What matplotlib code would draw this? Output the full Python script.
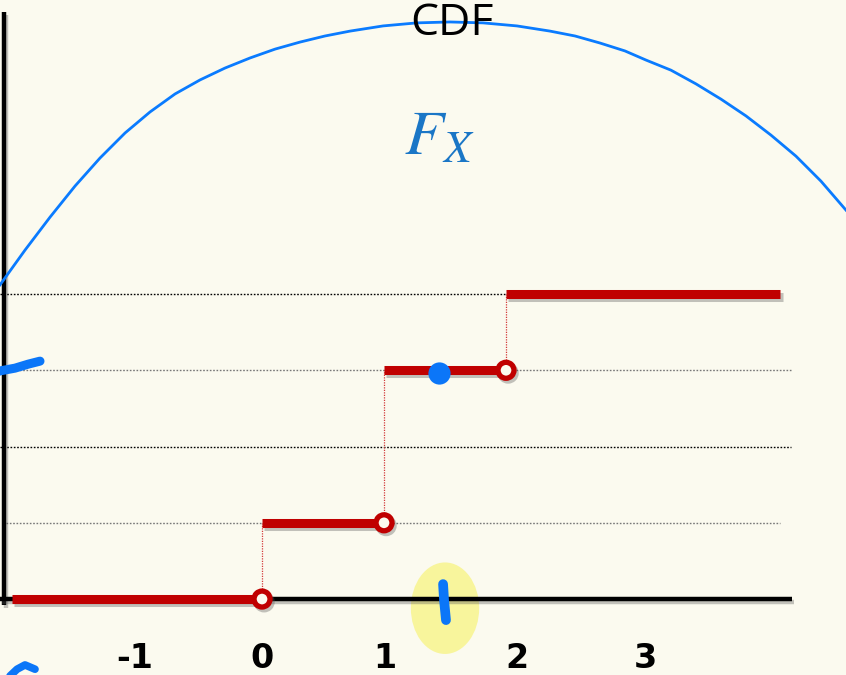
import matplotlib.pyplot as plt
import matplotlib.patheffects as pe
from matplotlib.patches import Ellipse

# step CDF of X = number of heads in two coin flips
jump_x = [0, 1, 2]
cdf_levels = [0.0, 0.25, 0.75, 1.0]
seg_start = [-2.05, 0, 1, 2]
seg_end = [0, 1, 2, 4.25]

# reference levels drawn as dotted guides
guide_y = [1.0, 0.75, 0.5, 0.25]
guide_x0 = [-2.15, -2.10, -2.15, -2.10]
guide_x1 = [2.0, 4.34, 4.34, 4.25]
guide_col = ['black', '#777777', 'black', '#777777']

tick_vals = [-1, 0, 1, 2, 3]
tick_labels = ['-1', '0', '1', '2', '3']

# hand drawn blue arc over the plot
arc_x = [-2.148, -1.943, -1.738, -1.533, -1.328, -1.123, -0.918, -0.713,
         -0.508, -0.303, -0.098, 0.107, 0.311, 0.516, 0.721, 0.992, 1.270,
         1.541, 1.811, 2.090, 2.361, 2.566, 2.770, 2.975, 3.148, 3.352,
         3.557, 3.762, 3.967, 4.172, 4.377, 4.582, 4.787]
arc_y = [1.030, 1.144, 1.252, 1.354, 1.446, 1.528, 1.597, 1.656,
         1.702, 1.741, 1.774, 1.803, 1.826, 1.846, 1.862, 1.879, 1.889,
         1.892, 1.889, 1.879, 1.862, 1.846, 1.823, 1.797, 1.767, 1.734,
         1.689, 1.639, 1.584, 1.521, 1.452, 1.370, 1.275]

# pen marks
dot_x, dot_y = 1.451, 0.741
tick_mark_x = [1.484, 1.492, 1.508]
tick_mark_y = [0.049, -0.003, -0.069]
left_mark_x = [-2.19, -2.148, -2.025, -1.918, -1.820]
left_mark_y = [0.742, 0.748, 0.757, 0.770, 0.780]
corner_mark_x = [-2.066, -2.008, -1.943, -1.861]
corner_mark_y = [-0.252, -0.230, -0.216, -0.230]

bg = '#fbfaef'
red = '#c00000'
pen = '#0b76f8'

fig = plt.figure(figsize=(8.46, 6.75), dpi=100)
fig.patch.set_facecolor(bg)
ax = fig.add_axes([0, 0, 1, 1])
ax.set_facecolor(bg)
ax.set_xlim(-2.148, 4.787)
ax.set_ylim(-0.249, 1.964)
ax.axis('off')

shadow = [pe.SimpleLineShadow(offset=(1.5, -2.0), shadow_color='#555555', alpha=0.35),
          pe.Normal()]

# highlighter under the axis
ax.add_patch(Ellipse((1.5, -0.03), 0.56, 0.30, facecolor='#f8f59c',
                     edgecolor='none', zorder=1))

# axes drawn as plain lines
ax.plot([-2.115, -2.115], [-0.02, 1.925], color='black', lw=3.2,
        solid_capstyle='butt', zorder=3, path_effects=shadow)
ax.plot([-2.148, 4.344], [0, 0], color='black', lw=3.2,
        solid_capstyle='butt', zorder=3, path_effects=shadow)

for y, x0, x1, c in zip(guide_y, guide_x0, guide_x1, guide_col):
    ax.plot([x0, x1], [y, y], color=c, lw=1.0, ls=(0, (1.2, 1.2)), zorder=2)

# dotted risers at each jump
for i, x in enumerate(jump_x):
    ax.plot([x, x], [cdf_levels[i], cdf_levels[i + 1]], color='#d33a3a',
            lw=0.9, ls=(0, (1, 1)), zorder=2)

for x0, x1, y in zip(seg_start, seg_end, cdf_levels):
    ax.plot([x0, x1], [y, y], color=red, lw=6.5, solid_capstyle='butt',
            zorder=4, path_effects=shadow)

# open circles: right end of each step is not included
ax.plot(jump_x, cdf_levels[:3], ls='none', marker='o', ms=11.5,
        mfc=bg, mec=red, mew=3.8, zorder=5, path_effects=shadow)

ax.plot(arc_x, arc_y, color='#0a7bff', lw=2.0, zorder=6)

ax.plot(dot_x, dot_y, marker='o', ms=16, color=pen, mec='none', zorder=7)
ax.plot(tick_mark_x, tick_mark_y, color=pen, lw=7, solid_capstyle='round', zorder=7)
ax.plot(left_mark_x, left_mark_y, color=pen, lw=6.5, solid_capstyle='round', zorder=7)
ax.plot(corner_mark_x, corner_mark_y, color=pen, lw=5.5, solid_capstyle='round', zorder=7)

nudge = [-0.04, 0.0, 0.01, 0.09, 0.14]
for v, lab, dx in zip(tick_vals, tick_labels, nudge):
    ax.text(v + dx, -0.227, lab, ha='center', va='baseline', fontsize=24,
            fontweight='bold', family='DejaVu Sans', color='black', zorder=8)

ax.text(1.557, 1.849, 'CDF', ha='center', va='baseline', fontsize=32,
        family='Open Sans', color='black', zorder=8)

plt.rcParams['mathtext.fontset'] = 'stix'
ax.text(1.45, 1.458, r'$F_X$', ha='center', va='baseline', fontsize=46,
        color='#1a76c6', zorder=8)

fig.savefig('out.png', dpi=100, facecolor=bg)
